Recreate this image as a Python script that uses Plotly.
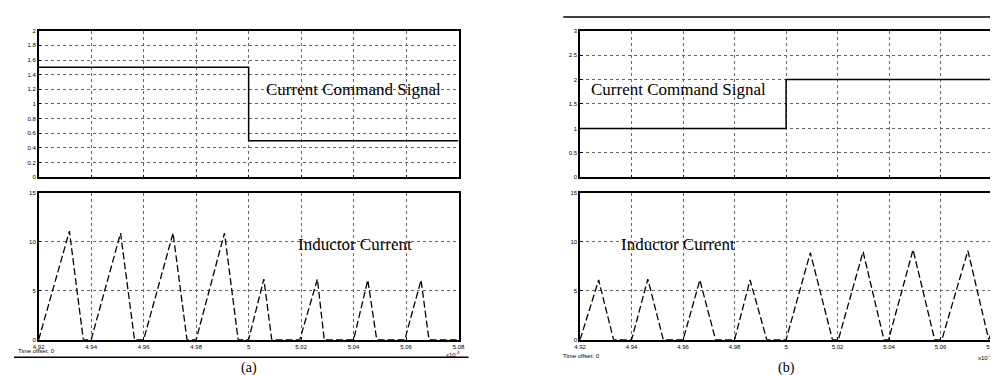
import plotly.graph_objects as go

# ---------------- data ----------------
x_ticks = [4.92, 4.94, 4.96, 4.98, 5.00, 5.02, 5.04, 5.06, 5.08]
x_tick_text = ["4.92", "4.94", "4.96", "4.98", "5", "5.02", "5.04", "5.06", "5.08"]

# panel (a)
cmd_a_t = [4.92, 5.00, 5.08]
cmd_a = [1.5, 0.5, 0.5]
il_a_t = [4.92, 4.9317, 4.937, 4.94, 4.9512, 4.9565, 4.96, 4.9712, 4.9765,
          4.98, 4.9908, 4.996, 5.00, 5.0058, 5.0088, 5.0195, 5.0262, 5.0288,
          5.04, 5.0454, 5.0488, 5.0595, 5.0657, 5.0687, 5.08]
il_a = [0, 11.1, 0, 0, 10.9, 0, 0, 10.9, 0,
        0, 10.9, 0, 0, 6.2, 0, 0, 6.2, 0,
        0, 6.1, 0, 0, 6.1, 0, 0]
ya_top_ticks = [0, 0.2, 0.4, 0.6, 0.8, 1, 1.2, 1.4, 1.6, 1.8, 2]

# panel (b)
cmd_b_t = [4.92, 5.00, 5.08]
cmd_b = [1.0, 2.0, 2.0]
il_b_t = [4.92, 4.9272, 4.933, 4.94, 4.9463, 4.9523, 4.96, 4.9665, 4.9726,
          4.98, 4.986, 4.9925, 5.00, 5.0094, 5.018, 5.0203, 5.0299, 5.038,
          5.0398, 5.0493, 5.0577, 5.0605, 5.0706, 5.0787, 5.08]
il_b = [0, 6.1, 0, 0, 6.2, 0, 0, 6.1, 0,
        0, 6.1, 0, 0, 8.9, 0, 0, 9.0, 0,
        0, 9.2, 0, 0, 9.1, 0, 1.0]
yb_top_ticks = [0, 0.5, 1, 1.5, 2, 2.5, 3]
bottom_ticks = [0, 5, 10, 15]

# ---------------- figure ----------------
W, H = 998, 375
fig = go.Figure()

def px_x(p):
    return p / W

def px_y(p):
    return 1 - p / H

xa_dom = [px_x(25), px_x(450)]
xb_dom = [px_x(573), px_x(990)]
top_dom = [px_y(169), px_y(20)]
bot_dom = [px_y(334), px_y(185)]

line_cmd = dict(color="black", width=1.5, shape="hv")
line_il = dict(color="black", width=1.3, dash="7px,3px")

fig.add_trace(go.Scatter(x=cmd_a_t, y=cmd_a, mode="lines", line=line_cmd, xaxis="x", yaxis="y"))
fig.add_trace(go.Scatter(x=il_a_t, y=il_a, mode="lines", line=line_il, xaxis="x2", yaxis="y2"))
fig.add_trace(go.Scatter(x=cmd_b_t, y=cmd_b, mode="lines", line=line_cmd, xaxis="x3", yaxis="y3"))
fig.add_trace(go.Scatter(x=il_b_t, y=il_b, mode="lines", line=line_il, xaxis="x4", yaxis="y4"))

tickfont = dict(family="Liberation Sans", size=6, color="black")
common_axis = dict(showline=True, mirror=True, linecolor="black", linewidth=1.5,
                   showgrid=True, gridcolor="#666", griddash="dot", gridwidth=1,
                   zeroline=False, ticks="inside", ticklen=3, tickcolor="black",
                   tickfont=tickfont)

def xaxis(dom, anchor, labels):
    d = dict(common_axis, domain=dom, anchor=anchor, range=[4.92, 5.08],
             tickmode="array", tickvals=x_ticks, ticktext=x_tick_text,
             showticklabels=labels)
    return d

def yaxis(dom, anchor, rng, ticks):
    return dict(common_axis, domain=dom, anchor=anchor, range=rng,
                tickmode="array", tickvals=ticks,
                ticktext=[("%g" % t) for t in ticks])

fig.update_layout(
    width=W, height=H, margin=dict(l=0, r=0, t=0, b=0),
    paper_bgcolor="white", plot_bgcolor="white", showlegend=False,
    xaxis=xaxis(xa_dom, "y", False),
    yaxis=yaxis(top_dom, "x", [0, 2], ya_top_ticks),
    xaxis2=xaxis(xa_dom, "y2", True),
    yaxis2=yaxis(bot_dom, "x2", [0, 15], bottom_ticks),
    xaxis3=xaxis(xb_dom, "y3", False),
    yaxis3=yaxis(top_dom, "x3", [0, 3], yb_top_ticks),
    xaxis4=xaxis(xb_dom, "y4", True),
    yaxis4=yaxis(bot_dom, "x4", [0, 15], bottom_ticks),
)

serif = dict(family="Liberation Serif", size=17, color="black")
small = dict(family="Liberation Sans", size=6, color="black")
ann = [
    dict(text="Current Command Signal", x=px_x(344), y=px_y(80), xanchor="center", yanchor="middle", font=serif),
    dict(text="Inductor Current", x=px_x(345), y=px_y(237), xanchor="center", yanchor="middle", font=serif),
    dict(text="Current Command Signal", x=px_x(583), y=px_y(80), xanchor="left", yanchor="middle", font=serif),
    dict(text="Inductor Current", x=px_x(672), y=px_y(237), xanchor="center", yanchor="middle", font=serif),
    dict(text="(a)", x=px_x(238), y=px_y(363), xanchor="center", yanchor="middle",
         font=dict(family="Liberation Serif", size=14, color="black")),
    dict(text="(b)", x=px_x(782), y=px_y(363), xanchor="center", yanchor="middle",
         font=dict(family="Liberation Serif", size=14, color="black")),
    dict(text="Time offset: 0", x=px_x(3), y=px_y(346), xanchor="left", yanchor="middle", font=small),
    dict(text="Time offset: 0", x=px_x(555), y=px_y(351), xanchor="left", yanchor="middle", font=small),
    dict(text="x10<sup>-3</sup>", x=px_x(452), y=px_y(349), xanchor="right", yanchor="middle", font=small),
    dict(text="x10<sup>-3</sup>", x=px_x(991), y=px_y(352), xanchor="right", yanchor="middle", font=small),
]
for a in ann:
    a.update(xref="paper", yref="paper", showarrow=False, borderpad=0)
fig.update_layout(annotations=ann)

fig.update_layout(shapes=[
    dict(type="line", xref="paper", yref="paper", x0=0, x1=px_x(460), y0=px_y(352), y1=px_y(352),
         line=dict(color="black", width=1.5)),
    dict(type="line", xref="paper", yref="paper", x0=px_x(556), x1=1, y0=px_y(6), y1=px_y(6),
         line=dict(color="black", width=1.5)),
])

fig.write_html("out.html")
